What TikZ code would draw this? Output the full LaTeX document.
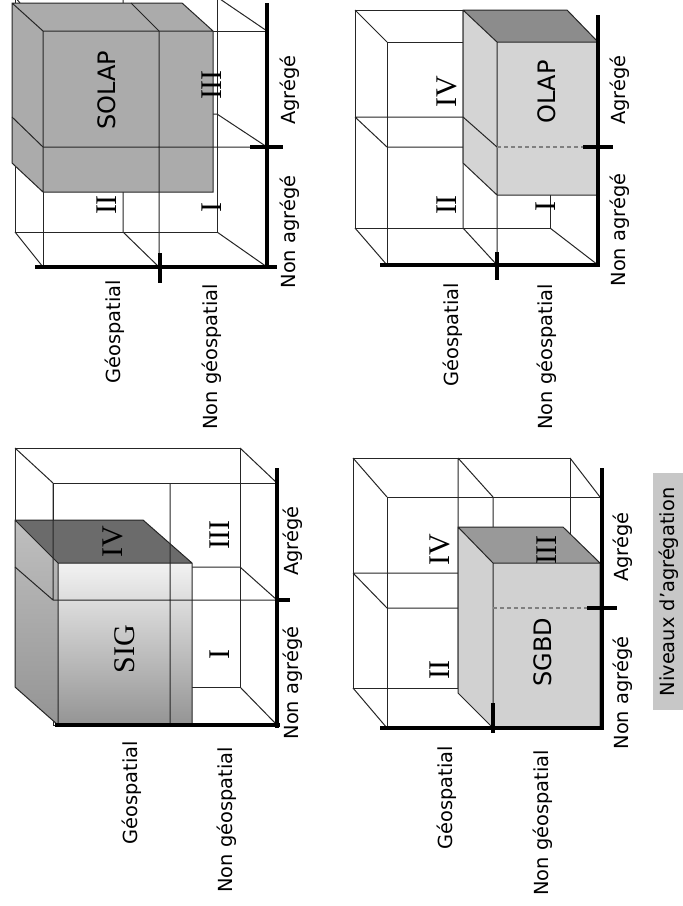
\documentclass[tikz,border=0pt]{standalone}
\usepackage{fontspec}
\setmainfont{Liberation Serif}
\setsansfont{DejaVu Sans}
\usepackage{tikz}
\usetikzlibrary{positioning}

\begin{document}
\begin{tikzpicture}[
  x=0.5pt, y=-0.5pt,
  every node/.style={font=\sffamily\fontsize{9.7}{11}\selectfont, rotate=90, inner sep=0pt},
  wire/.style={draw=black!85, line width=0.5pt},
  axisline/.style={draw=black, line width=1.6pt},
  roman/.style={font=\rmfamily\fontsize{15}{17}\selectfont},
  sysname/.style={font=\sffamily\fontsize{12}{14}\selectfont},
  dashline/.style={draw=black!50, line width=0.6pt, dash pattern=on 2pt off 1.5pt}
]
\useasboundingbox (0,0) rectangle (683,906);
\clip (0,0) rectangle (683,906);
\fill[white] (0,0) rectangle (683,906);

% SOLAP
\draw[wire] (15,-3) rectangle (217,232);
\draw[wire] (43,31) rectangle (267,267);
\draw[wire] (15,-3) -- (43,31) (217,-3) -- (267,31) (217,232) -- (267,267) (15,232) -- (43,267);
\draw[wire] (123,-3) -- (123,232) -- (159,267);
\draw[wire] (15,114) -- (217,114) -- (267,147);
\fill[black!33] (12,3) -- (182,3) -- (213,31) -- (213,192) -- (43,192) -- (12,163) -- cycle;
\draw[wire] (12,3) -- (182,3) -- (213,31) -- (213,192) -- (43,192) -- (12,163) -- cycle
  (12,3) -- (43,31) -- (213,31) (43,31) -- (43,192);
\draw[wire] (159,31) -- (159,267) (43,147) -- (267,147) (131,3) -- (159,31) (12,117) -- (43,147);
\draw[axisline] (267,3) -- (267,268) (35,267) -- (277,267);
\draw[axisline] (160,253) -- (160,283) (250,147) -- (283,147);
\node (geoA) at (115,332) {Géospatial};
\node (ngeoA) at (212,357) {Non géospatial};
\node (nagrA) at (290,232) {Non agrégé};
\node (agrA) at (290,90) {Agrégé};
\node[sysname] (solap) at (107,90) {SOLAP};
\node[roman] (iiA) at (107,205) {II};
\node[roman] (iA) at (212,207) {I};
\node[roman] (iiiA) at (212,85) {III};

% OLAP
\draw[wire] (355,10) -- (550,10) -- (550,228) -- (355,228) -- cycle;
\draw[wire] (387,42) rectangle (598,265);
\draw[wire] (355,10) -- (387,42) (355,228) -- (387,265) (550,228) -- (598,265);
\draw[wire] (463,10) -- (463,228) -- (497,265);
\draw[wire] (355,117) -- (463,117) (355,117) -- (387,147) -- (497,147);
\fill[black!17] (463,10) -- (497,42) -- (598,42) -- (598,195) -- (497,195) -- (463,163) -- cycle;
\fill[black!45] (463,10) -- (567,10) -- (598,42) -- (497,42) -- cycle;
\draw[wire] (463,10) -- (567,10) -- (598,42) -- (598,195) -- (497,195) -- (463,163) -- cycle
  (463,10) -- (497,42) -- (598,42) (497,42) -- (497,265);
\draw[wire] (463,117) -- (497,147);
\draw[dashline] (497,147) -- (583,147);
\draw[axisline] (598,15) -- (598,266) (380,265) -- (600,265);
\draw[axisline] (497,252) -- (497,280) (583,147) -- (613,147);
\node (geoB) at (453,335) {Géospatial};
\node (ngeoB) at (547,357) {Non géospatial};
\node (nagrB) at (620,230) {Non agrégé};
\node (agrB) at (620,90) {Agrégé};
\node[sysname] (olap) at (547,92) {OLAP};
\node[roman] (iiB) at (447,205) {II};
\node[roman] (ivB) at (447,92) {IV};
\node[roman] (iB) at (546,206) {I};

% SIG
\draw[wire] (15,448) rectangle (240,687);
\draw[wire] (53,483) rectangle (277,725);
\draw[wire] (15,448) -- (53,483) (240,448) -- (277,483) (240,687) -- (277,725);
\draw[wire] (15,567) -- (240,567) -- (277,600);
\shade[top color=black!5, bottom color=black!42] (58,563) rectangle (192,725);
\shade[top color=black!25, bottom color=black!42] (15,520) -- (58,563) -- (58,725) -- (15,687) -- cycle;
\fill[black!58] (15,520) -- (143,520) -- (192,563) -- (58,563) -- cycle;
\draw[wire] (15,520) -- (143,520) -- (192,563) -- (192,725) -- (58,725) -- (15,687) -- cycle
  (15,520) -- (58,563) -- (192,563) (58,563) -- (58,725);
\draw[wire] (170,483) -- (170,725) (53,600) -- (277,600) (53,483) -- (53,600) (15,567) -- (53,600);
\draw[axisline] (277,468) -- (277,728) (55,725) -- (280,725);
\draw[axisline] (277,600) -- (290,600);
\node (geoC) at (132,793) {Géospatial};
\node (ngeoC) at (227,820) {Non géospatial};
\node (nagrC) at (293,683) {Non agrégé};
\node (agrC) at (293,541) {Agrégé};
\node[roman] (sig) at (125,649) {SIG};
\node[roman] (ivC) at (113,542) {IV};
\node[roman] (iiiC) at (220,535) {III};
\node[roman] (iC) at (220,654) {I};

% SGBD
\draw[wire] (353,458) -- (570,458) -- (570,688) -- (353,688) -- cycle;
\draw[wire] (387,497) rectangle (600,728);
\draw[wire] (353,458) -- (387,497) (570,458) -- (600,497) (353,688) -- (387,728);
\draw[wire] (458,458) -- (458,688) (458,458) -- (493,497) -- (493,728);
\draw[wire] (353,573) -- (458,573) (353,573) -- (387,608) -- (493,608);
\fill[black!18] (458,527) -- (493,563) -- (600,563) -- (600,728) -- (493,728) -- (458,693) -- cycle;
\fill[black!40] (458,527) -- (563,527) -- (600,563) -- (493,563) -- cycle;
\draw[wire] (458,527) -- (563,527) -- (600,563) -- (600,728) -- (493,728) -- (458,693) -- cycle
  (458,527) -- (493,563) -- (600,563) (493,563) -- (493,728);
\draw[dashline] (493,608) -- (587,608);
\draw[axisline] (602,468) -- (602,730) (380,728) -- (602,728);
\draw[axisline] (493,703) -- (493,733) (587,608) -- (617,608);
\node (geoD) at (447,798) {Géospatial};
\node (ngeoD) at (543,823) {Non géospatial};
\node (nagrD) at (623,693) {Non agrégé};
\node (agrD) at (623,547) {Agrégé};
\node[sysname] (sgbd) at (543,652) {SGBD};
\node[roman] (iiD) at (440,670) {II};
\node[roman] (ivD) at (440,550) {IV};
\node[roman] (iiiD) at (547,550) {III};

\fill[black!22] (653,473) rectangle (690,710);
\node (niveaux) at (669,592) {Niveaux d’agrégation};
\end{tikzpicture}
\end{document}
